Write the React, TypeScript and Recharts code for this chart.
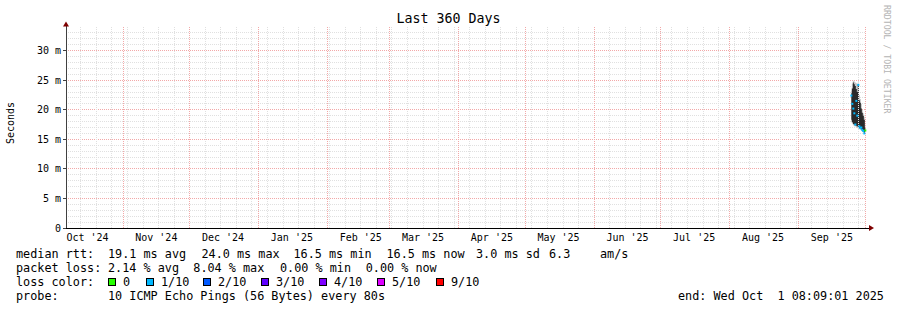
import React from "react";
import {
  Area,
  CartesianGrid,
  ComposedChart,
  Line,
  ReferenceDot,
  ReferenceLine,
  XAxis,
  YAxis,
} from "recharts";

// days since the start of the 360 day window (Oct 6 '24 08:09)
const sampleDays = [
  353.4, 353.85, 354.3, 354.75, 355.2, 355.65, 356.1, 356.55, 357.0, 357.45,
  357.9, 358.35, 358.8, 359.25, 359.7,
];
// smoke bands in ms
const smokeOuterLow = [18.0, 17.8, 17.4, 17.2, 17.2, 17.0, 17.0, 16.8, 16.8, 16.6, 16.5, 16.3, 16.2, 16.0, 16.2];
const smokeOuterHigh = [23.2, 24.4, 24.9, 24.8, 24.6, 24.5, 24.4, 24.6, 22.5, 21.8, 21.0, 20.0, 19.4, 18.8, 17.5];
const smokeInnerLow = [18.3, 17.9, 17.6, 17.5, 17.4, 17.3, 17.2, 17.0, 16.9, 16.8, 16.7, 16.5, 16.3, 16.1, 16.3];
const smokeInnerHigh = [22.8, 23.6, 24.6, 24.3, 24.0, 23.5, 23.0, 24.2, 21.6, 21.2, 20.2, 19.5, 19.0, 18.3, 17.0];
const medianRtt = [22.4, 21.0, 20.2, 19.4, 17.5, 21.5, 19.0, 24.2, 17.2, 16.9, 17.0, 16.6, 16.4, 16.0, 16.5];
const lostPings = [1, 1, 1, 1, 1, 1, 1, 1, 1, 1, 1, 1, 1, 1, 0];

const lossThresholds = [0, 1, 2, 3, 4, 5, 10];
const lossLabels = ["0", "1/10", "2/10", "3/10", "4/10", "5/10", "9/10"];
const lossColors = ["#26ff00", "#00b8ff", "#0059ff", "#5e00ff", "#7e00ff", "#dd00ff", "#ff0000"];

const monthStarts = [25.66, 55.66, 86.66, 117.66, 145.66, 176.66, 206.66, 237.66, 267.66, 298.66, 329.66, 359.66];
const monthLabelDays = [9.66, 40.66, 70.66, 101.66, 132.66, 160.66, 191.66, 221.66, 252.66, 282.66, 313.66, 344.66];
const monthLabels = ["Oct '24", "Nov '24", "Dec '24", "Jan '25", "Feb '25", "Mar '25", "Apr '25", "May '25", "Jun '25", "Jul '25", "Aug '25", "Sep '25"];
const weekStarts = [
  6.66, 13.66, 20.66, 27.66, 34.66, 41.66, 48.66, 55.66, 62.66, 69.66, 76.66,
  83.66, 90.66, 97.66, 104.66, 111.66, 118.66, 125.66, 132.66, 139.66, 146.66,
  153.66, 160.66, 167.66, 174.66, 181.66, 188.66, 195.66, 202.66, 209.66,
  216.66, 223.66, 230.66, 237.66, 244.66, 251.66, 258.66, 265.66, 272.66,
  279.66, 286.66, 293.66, 300.66, 307.66, 314.66, 321.66, 328.66, 335.66,
  342.66, 349.66, 356.66,
];
const yTicks = [0, 5, 10, 15, 20, 25, 30];
const yMajor = [5, 10, 15, 20, 25, 30];
const yMinor = [1, 2, 3, 4, 6, 7, 8, 9, 11, 12, 13, 14, 16, 17, 18, 19, 21, 22, 23, 24, 26, 27, 28, 29, 31, 32, 33];

const data = sampleDays.map((day, i) => ({
  day,
  outer: [smokeOuterLow[i], smokeOuterHigh[i]],
  inner: [smokeInnerLow[i], smokeInnerHigh[i]],
  median: medianRtt[i],
  loss: lostPings[i],
}));

const MONO = "'DejaVu Sans Mono', monospace";
const MINOR_GRID = "#e0e0e0";
const MAJOR_GRID = "#f2a8a8";

function lossColor(loss: number) {
  let idx = 0;
  lossThresholds.forEach((t, i) => {
    if (loss >= t) idx = i;
  });
  return lossColors[idx];
}

function MedianMark(props: any) {
  const { cx, cy, payload, index } = props;
  if (cx == null || cy == null) return <g key={`m-${index}`} />;
  return (
    <rect key={`m-${index}`} x={cx - 1} y={cy - 1} width={2} height={2} fill={lossColor(payload.loss)} />
  );
}

function UpArrow(props: any) {
  const { cx, cy } = props;
  return (
    <g>
      <line x1={cx} y1={cy} x2={cx} y2={cy - 1.5} stroke="#404040" />
      <path d={`M${cx - 3},${cy - 0.5} L${cx + 3},${cy - 0.5} L${cx},${cy - 5.5} Z`} fill="#7f0000" />
    </g>
  );
}

function RightArrow(props: any) {
  const { cx, cy } = props;
  return (
    <g>
      <line x1={cx} y1={cy} x2={cx + 3} y2={cy} stroke="#000" />
      <path d={`M${cx + 3},${cy - 3} L${cx + 3},${cy + 3} L${cx + 8},${cy} Z`} fill="#7f0000" />
    </g>
  );
}

function Txt({ x, y, children, color = "#000" }: { x: number; y: number; children: React.ReactNode; color?: string }) {
  return (
    <div
      style={{
        position: "absolute",
        left: x,
        top: y,
        whiteSpace: "pre",
        fontFamily: MONO,
        fontSize: 11.8,
        lineHeight: "14px",
        color,
      }}
    >
      {children}
    </div>
  );
}

const lossSquareX = [108, 146, 203, 261, 319, 377, 436];

export default function App() {
  return (
    <div style={{ position: "relative", width: 897, height: 310, background: "#fff", overflow: "hidden" }}>
      <style>{"body{margin:0} svg line{shape-rendering:crispEdges}"}</style>
      <ComposedChart width={897} height={310} data={data} margin={{ top: 27, right: 31, left: 0, bottom: 52 }}>
        <CartesianGrid horizontalValues={yMinor} vertical={false} stroke={MINOR_GRID} strokeDasharray="1 1" />
        <CartesianGrid horizontalValues={yMajor} vertical={false} stroke={MAJOR_GRID} strokeDasharray="1 1" />
        {weekStarts.map((d) => (
          <ReferenceLine key={`w-${d}`} x={d} stroke={MINOR_GRID} strokeDasharray="1 1" />
        ))}
        {monthStarts.map((d) => (
          <ReferenceLine key={`mo-${d}`} x={d} stroke={MAJOR_GRID} strokeDasharray="1 1" />
        ))}
        <XAxis
          dataKey="day"
          type="number"
          domain={[0, 360]}
          ticks={monthLabelDays}
          interval={0}
          tickFormatter={(_v: number, i: number) => monthLabels[i]}
          tickLine={false}
          tickSize={0}
          tickMargin={6}
          axisLine={{ stroke: "#000" }}
          tick={{ fontSize: 10, fontFamily: MONO, fill: "#000" }}
          height={30}
        />
        <YAxis
          type="number"
          domain={[0, 34]}
          ticks={yTicks}
          interval={0}
          width={66}
          tickSize={3}
          tickMargin={2}
          tickFormatter={(v: number) => (v === 0 ? "0" : `${v} m`)}
          axisLine={{ stroke: "#404040" }}
          tickLine={{ stroke: "#404040" }}
          tick={{ fontSize: 10, fontFamily: MONO, fill: "#000" }}
        />
        <Area dataKey="outer" type="step" stroke="none" fill="#c4c4c4" fillOpacity={1} isAnimationActive={false} dot={false} activeDot={false} />
        <Area dataKey="inner" type="step" stroke="none" fill="#2a2a2a" fillOpacity={1} isAnimationActive={false} dot={false} activeDot={false} />
        <Line dataKey="median" stroke="none" dot={MedianMark} activeDot={false} isAnimationActive={false} />
        <ReferenceDot x={0} y={34} r={0} shape={UpArrow} />
        <ReferenceDot x={360} y={0} r={0} shape={RightArrow} />
      </ComposedChart>

      <div
        style={{
          position: "absolute",
          left: 0,
          top: 11,
          width: 897,
          textAlign: "center",
          fontFamily: MONO,
          fontSize: 13.3,
          lineHeight: "16px",
        }}
      >
        Last 360 Days
      </div>

      <div
        style={{
          position: "absolute",
          left: 11 - 30,
          top: 123 - 6,
          width: 60,
          height: 12,
          lineHeight: "12px",
          textAlign: "center",
          fontFamily: MONO,
          fontSize: 10,
          transform: "rotate(-90deg)",
        }}
      >
        Seconds
      </div>

      <div
        style={{
          position: "absolute",
          left: 891,
          top: 5,
          transformOrigin: "left top",
          transform: "rotate(90deg)",
          whiteSpace: "pre",
          fontFamily: MONO,
          fontSize: 8.2,
          lineHeight: "9px",
          color: "#b4b4b4",
        }}
      >
        RRDTOOL / TOBI OETIKER
      </div>

      <Txt x={16} y={247}>median rtt:</Txt>
      <Txt x={108} y={247}>19.1 ms avg</Txt>
      <Txt x={201.5} y={247}>24.0 ms max</Txt>
      <Txt x={293.5} y={247}>16.5 ms min</Txt>
      <Txt x={386.5} y={247}>16.5 ms now</Txt>
      <Txt x={476} y={247}>3.0 ms sd</Txt>
      <Txt x={549} y={247}>6.3</Txt>
      <Txt x={600} y={247}>am/s</Txt>

      <Txt x={16} y={261}>packet loss:</Txt>
      <Txt x={108} y={261}>2.14 % avg</Txt>
      <Txt x={193.3} y={261}>8.04 % max</Txt>
      <Txt x={280} y={261}>0.00 % min</Txt>
      <Txt x={365.7} y={261}>0.00 % now</Txt>

      <Txt x={16} y={275}>loss color:</Txt>
      {lossLabels.map((label, i) => (
        <React.Fragment key={label}>
          <div
            style={{
              position: "absolute",
              left: lossSquareX[i],
              top: 278,
              width: 6,
              height: 6,
              border: "1px solid #000",
              background: lossColors[i],
            }}
          />
          <Txt x={lossSquareX[i] + 15} y={275}>{label}</Txt>
        </React.Fragment>
      ))}

      <Txt x={16} y={289}>probe:</Txt>
      <Txt x={108} y={289}>10 ICMP Echo Pings (56 Bytes) every 80s</Txt>
      <Txt x={678} y={289}>end: Wed Oct  1 08:09:01 2025</Txt>
    </div>
  );
}
